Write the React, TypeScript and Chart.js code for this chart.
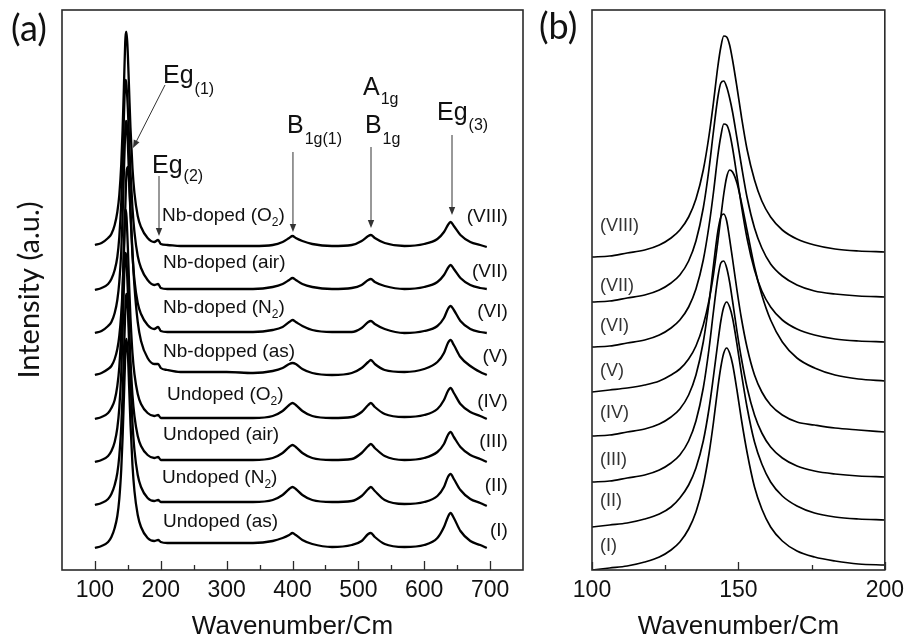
import { useEffect, useRef } from 'react';
import { Chart, registerables } from 'chart.js';

Chart.register(...registerables);

// ---------- Panel (a) data ----------
const wavenumberA = [100, 110, 120, 125, 130, 134, 137, 140, 142, 144, 146, 147, 148, 150, 152, 154, 157, 160, 165, 170, 180, 190, 196, 200, 210, 230, 260, 300, 340, 370, 385, 395, 400, 405, 415, 430, 460, 490, 505, 515, 519, 525, 540, 570, 600, 620, 630, 636, 640, 645, 655, 670, 685, 695];

const intensityA_I = [0, 2, 6, 11, 20, 32, 49, 79, 110, 150, 191, 205, 209, 194, 160, 124, 83, 57, 33, 21, 10, 7, 8, 6, 5, 5, 5, 5, 5, 7, 10, 13, 15, 13, 8, 4, 1, 3, 7, 14, 15, 11, 4, 1, 3, 10, 21, 31, 35, 30, 17, 7, 3, 0];
const intensityA_II = [0, 2, 6, 11, 20, 32, 49, 79, 110, 151, 192, 207, 211, 195, 160, 124, 82, 55, 30, 18, 7, 4, 5, 3, 3, 3, 3, 3, 3, 5, 10, 16, 18, 16, 10, 5, 3, 4, 9, 16, 18, 14, 5, 1, 3, 9, 18, 28, 31, 26, 15, 6, 2, -1];
const intensityA_III = [0, 2, 6, 11, 20, 34, 54, 90, 129, 176, 209, 208, 200, 170, 133, 102, 67, 46, 26, 16, 7, 4, 5, 2, 2, 2, 2, 2, 2, 4, 9, 15, 17, 15, 9, 4, 2, 3, 9, 16, 18, 14, 6, 2, 4, 10, 18, 27, 30, 25, 15, 7, 3, 0];
const intensityA_IV = [0, 2, 6, 11, 19, 33, 52, 88, 126, 173, 208, 209, 202, 171, 133, 101, 66, 45, 25, 15, 6, 3, 4, 1, 1, 1, 1, 1, 1, 3, 8, 14, 16, 14, 8, 3, 1, 2, 7, 14, 16, 12, 5, 2, 4, 10, 19, 28, 31, 26, 15, 7, 3, 0];
const intensityA_V = [0, 2, 6, 9, 16, 26, 39, 62, 86, 121, 165, 187, 203, 208, 192, 165, 123, 89, 53, 34, 17, 11, 11, 7, 5, 3, 3, 3, 2, 4, 7, 11, 12, 11, 6, 2, 0, 2, 7, 13, 15, 11, 5, 3, 6, 13, 22, 32, 35, 30, 18, 9, 3, 0];
const intensityA_VI = [0, 2, 7, 11, 20, 33, 51, 82, 117, 161, 202, 212, 211, 189, 153, 118, 78, 53, 30, 19, 8, 4, 6, 2, 1, 1, 1, 1, 1, 3, 6, 11, 13, 11, 7, 3, 1, 1, 5, 11, 12, 9, 4, 0, 2, 7, 15, 24, 27, 23, 12, 4, 1, 0];
const intensityA_VII = [0, 2, 6, 11, 20, 33, 53, 88, 126, 173, 208, 210, 204, 181, 149, 118, 82, 58, 34, 22, 10, 5, 6, 2, 1, 1, 1, 1, 1, 3, 6, 10, 12, 10, 6, 3, 1, 2, 5, 10, 11, 8, 4, 1, 3, 8, 15, 22, 25, 21, 12, 5, 2, 1];
const intensityA_VIII = [0, 2, 7, 11, 20, 33, 50, 81, 115, 158, 203, 213, 213, 190, 153, 117, 77, 52, 29, 18, 7, 3, 5, 1, 0, -1, -1, -1, -1, 0, 3, 7, 9, 7, 4, 1, -1, 0, 4, 9, 10, 7, 2, -1, 1, 6, 13, 20, 23, 19, 10, 3, 0, -2];

// vertical stacking offsets used for the stacked spectra (I .. VIII)
const offsetA = [22, 65, 108, 151, 195, 237, 280, 325];

const sampleNames = ['Undoped (as)', 'Undoped (N_2)', 'Undoped (air)', 'Undoped (O_2)', 'Nb-dopped (as)', 'Nb-doped (N_2)', 'Nb-doped (air)', 'Nb-doped (O_2)'];
const romanLabels = ['(I)', '(II)', '(III)', '(IV)', '(V)', '(VI)', '(VII)', '(VIII)'];

const tickLabelsA = [100, 200, 300, 400, 500, 600, 700];
const minorTicksA = [150, 250, 350, 450, 550, 650];

// ---------- Panel (b) data ----------
const wavenumberB = [100, 106, 112, 118, 123, 127, 130, 133, 135.5, 138, 140, 141.5, 143, 144, 145, 146, 147, 148, 149.5, 151, 153, 155.5, 158, 161, 165, 170, 176, 183, 191, 200];

const intensityB_I = [0, 2, 4, 8, 13, 20, 28, 41, 58, 85, 117, 148, 183, 203, 217, 222, 217, 206, 180, 151, 117, 83, 61, 43, 29, 19, 13, 9, 6, 5];
const intensityB_II = [43, 45, 47, 51, 56, 63, 72, 85, 102, 129, 162, 194, 228, 249, 263, 268, 263, 252, 226, 197, 162, 128, 106, 88, 74, 64, 57, 53, 51, 50];
const intensityB_III = [88, 89, 92, 95, 100, 107, 115, 129, 149, 182, 222, 259, 293, 307, 309, 302, 288, 269, 239, 212, 182, 155, 137, 123, 112, 104, 99, 96, 94, 93];
const intensityB_IV = [134, 135, 138, 141, 146, 153, 161, 175, 195, 228, 268, 305, 339, 353, 356, 349, 331, 311, 280, 252, 222, 195, 178, 165, 155, 148, 145, 142, 140, 138];
const intensityB_V = [178, 180, 182, 185, 189, 195, 201, 211, 224, 245, 270, 296, 329, 353, 376, 393, 400, 398, 387, 368, 339, 303, 275, 250, 228, 212, 202, 195, 191, 189];
const intensityB_VI = [223, 224, 227, 230, 235, 242, 250, 263, 281, 310, 345, 378, 415, 434, 446, 445, 437, 422, 394, 365, 331, 300, 279, 263, 250, 241, 235, 231, 229, 228];
const intensityB_VII = [268, 269, 272, 275, 280, 287, 295, 309, 329, 362, 402, 439, 473, 487, 489, 483, 472, 458, 432, 405, 372, 342, 322, 306, 294, 285, 279, 276, 274, 273];
const intensityB_VIII = [313, 314, 317, 320, 325, 332, 340, 353, 371, 400, 435, 468, 504, 523, 534, 533, 525, 510, 483, 454, 420, 390, 369, 353, 340, 331, 325, 321, 319, 318];

const tickLabelsB = [100, 150, 200];
const minorTicksB = [125, 175];

// ---------- annotations (positions in data coordinates of panel a) ----------
const peakLabels = [
  { main: 'Eg', sub: '(1)', x: 203.4, y: 487, subDy: 11 },
  { main: 'Eg', sub: '(2)', x: 186.7, y: 397, subDy: 8 },
  { main: 'B', sub: '1g(1)', x: 391.6, y: 437, subDy: 11 },
  { main: 'A', sub: '1g', x: 507, y: 475, subDy: 9 },
  { main: 'B', sub: '1g', x: 510, y: 437, subDy: 11 },
  { main: 'Eg', sub: '(3)', x: 619.4, y: 450, subDy: 10 },
];
const arrowsA = [
  { x1: 206.4, y1: 485, x2: 157.8, y2: 422 },
  { x1: 197.3, y1: 394, x2: 197.3, y2: 334 },
  { x1: 400.7, y1: 418, x2: 400.7, y2: 338 },
  { x1: 519.2, y1: 423, x2: 519.2, y2: 342 },
  { x1: 642.2, y1: 435, x2: 642.2, y2: 355 },
];
const nameLabelPos = [
  { x: 203.4, y: 43 }, { x: 201.8, y: 87 }, { x: 203.4, y: 130 }, { x: 209.5, y: 170 },
  { x: 203.4, y: 213 }, { x: 203.4, y: 257 }, { x: 203.4, y: 302 }, { x: 201.8, y: 349 },
];
const romanPosA = [34, 79, 123, 163, 208, 253, 293, 348];
const romanPosB = [19, 64, 105, 152, 194, 239, 279, 339];

const ARIAL = '"Liberation Sans", Arial, sans-serif';
const CALIBRI = 'Lato, "Open Sans", sans-serif';

function drawRich(ctx: CanvasRenderingContext2D, text: string, x: number, y: number, size: number, subSize: number, subDy: number) {
  const segs: { t: string; sub: boolean }[] = [];
  let buf = '';
  for (let i = 0; i < text.length; i++) {
    if (text[i] === '_') {
      if (buf) segs.push({ t: buf, sub: false });
      buf = '';
      segs.push({ t: text[i + 1], sub: true });
      i++;
    } else buf += text[i];
  }
  if (buf) segs.push({ t: buf, sub: false });
  let cx = x;
  ctx.textAlign = 'left';
  ctx.textBaseline = 'alphabetic';
  segs.forEach((s) => {
    ctx.font = `${s.sub ? subSize : size}px ${ARIAL}`;
    ctx.fillText(s.t, cx, s.sub ? y + subDy : y);
    cx += ctx.measureText(s.t).width;
  });
}

function framePlugin(major: number[], minor: number[], majorLen: number, minorLen: number) {
  return {
    id: 'frameTicks',
    afterDatasetsDraw(chart: any) {
      const { ctx, chartArea, scales } = chart;
      const { left, top, right, bottom } = chartArea;
      const xs = scales.x;
      ctx.save();
      ctx.strokeStyle = '#2a2a2a';
      ctx.lineWidth = 1.6;
      ctx.strokeRect(left, top, right - left, bottom - top);
      ctx.lineWidth = 1.3;
      ctx.beginPath();
      major.forEach((v) => {
        const px = Math.round(xs.getPixelForValue(v)) + 0.5;
        ctx.moveTo(px, bottom);
        ctx.lineTo(px, bottom - majorLen);
      });
      minor.forEach((v) => {
        const px = Math.round(xs.getPixelForValue(v)) + 0.5;
        ctx.moveTo(px, bottom);
        ctx.lineTo(px, bottom - minorLen);
      });
      ctx.stroke();
      ctx.restore();
    },
  };
}

const annotationsA = {
  id: 'annotA',
  afterDraw(chart: any) {
    const { ctx, scales } = chart;
    const xs = scales.x;
    const ys = scales.y;
    ctx.save();
    ctx.fillStyle = '#111';
    ctx.font = `36px ${CALIBRI}`;
    ctx.textAlign = 'left';
    ctx.textBaseline = 'alphabetic';
    ctx.fillText('(a)', 11, 41);
    peakLabels.forEach((p) => {
      const px = xs.getPixelForValue(p.x);
      const py = ys.getPixelForValue(p.y);
      ctx.font = `25px ${ARIAL}`;
      ctx.fillText(p.main, px, py);
      const w = ctx.measureText(p.main).width;
      ctx.font = `16px ${ARIAL}`;
      ctx.fillText(p.sub, px + w + 1, py + p.subDy);
    });
    ctx.strokeStyle = '#333';
    ctx.fillStyle = '#333';
    ctx.lineWidth = 1;
    arrowsA.forEach((a) => {
      const x1 = xs.getPixelForValue(a.x1);
      const y1 = ys.getPixelForValue(a.y1);
      const x2 = xs.getPixelForValue(a.x2);
      const y2 = ys.getPixelForValue(a.y2);
      const ang = Math.atan2(y2 - y1, x2 - x1);
      const L = 8;
      const W = 3.2;
      ctx.beginPath();
      ctx.moveTo(x1, y1);
      ctx.lineTo(x2 - Math.cos(ang) * L * 0.8, y2 - Math.sin(ang) * L * 0.8);
      ctx.stroke();
      ctx.beginPath();
      ctx.moveTo(x2, y2);
      ctx.lineTo(x2 - Math.cos(ang) * L + Math.sin(ang) * W, y2 - Math.sin(ang) * L - Math.cos(ang) * W);
      ctx.lineTo(x2 - Math.cos(ang) * L - Math.sin(ang) * W, y2 - Math.sin(ang) * L + Math.cos(ang) * W);
      ctx.closePath();
      ctx.fill();
    });
    ctx.fillStyle = '#111';
    sampleNames.forEach((n, i) => {
      const p = nameLabelPos[i];
      drawRich(ctx, n, xs.getPixelForValue(p.x), ys.getPixelForValue(p.y), 19, 12, 5);
    });
    romanLabels.forEach((r, i) => {
      ctx.font = `19px ${ARIAL}`;
      ctx.textAlign = 'right';
      ctx.fillText(r, xs.getPixelForValue(727), ys.getPixelForValue(romanPosA[i]));
    });
    ctx.restore();
  },
};

const annotationsB = {
  id: 'annotB',
  afterDraw(chart: any) {
    const { ctx, scales } = chart;
    const xs = scales.x;
    const ys = scales.y;
    ctx.save();
    ctx.fillStyle = '#111';
    ctx.font = `36px ${CALIBRI}`;
    ctx.textAlign = 'left';
    ctx.textBaseline = 'alphabetic';
    ctx.fillText('(b)', 9, 39);
    ctx.fillStyle = '#333';
    ctx.font = `18px ${ARIAL}`;
    romanLabels.forEach((r, i) => {
      ctx.fillText(r, xs.getPixelForValue(102.7), ys.getPixelForValue(romanPosB[i]));
    });
    ctx.restore();
  },
};

function xScale(min: number, max: number, ticks: number[]) {
  return {
    type: 'linear',
    min,
    max,
    afterBuildTicks: (s: any) => {
      s.ticks = ticks.map((v) => ({ value: v }));
    },
    afterFit: (s: any) => {
      s.height = 68;
    },
    grid: { display: false, drawTicks: false },
    border: { display: false },
    ticks: {
      autoSkip: false,
      maxRotation: 0,
      padding: 7,
      color: '#111',
      font: { family: ARIAL, size: 23 },
      callback: (v: any) => String(v),
    },
    title: {
      display: true,
      text: 'Wavenumber/Cm',
      color: '#111',
      font: { family: ARIAL, size: 26, lineHeight: 1.2 },
      padding: { top: 0, bottom: -4 },
    },
  };
}

export default function App() {
  const refA = useRef<HTMLCanvasElement>(null);
  const refB = useRef<HTMLCanvasElement>(null);

  useEffect(() => {
    const seriesA = [intensityA_I, intensityA_II, intensityA_III, intensityA_IV, intensityA_V, intensityA_VI, intensityA_VII, intensityA_VIII];
    const seriesB = [intensityB_I, intensityB_II, intensityB_III, intensityB_IV, intensityB_V, intensityB_VI, intensityB_VII, intensityB_VIII];

    const chartA = new Chart(refA.current as HTMLCanvasElement, {
      type: 'line',
      data: {
        datasets: seriesA.map((vals, k) => ({
          label: romanLabels[k],
          data: vals.map((v, i) => ({ x: wavenumberA[i], y: v + offsetA[k] })),
          borderColor: '#000',
          borderWidth: 2.3,
          pointRadius: 0,
          fill: false,
          cubicInterpolationMode: 'monotone',
        })),
      },
      options: {
        animation: false,
        responsive: false,
        devicePixelRatio: 1,
        layout: { padding: { left: 0, right: 7, top: 10, bottom: 0 } },
        plugins: { legend: { display: false }, tooltip: { enabled: false } },
        scales: {
          x: xScale(50, 750, tickLabelsA) as any,
          y: {
            type: 'linear',
            min: 0,
            max: 560,
            afterFit: (s: any) => {
              s.width = 62;
            },
            grid: { display: false, drawTicks: false },
            border: { display: false },
            ticks: { display: false },
            title: {
              display: true,
              text: 'Intensity (a.u.)',
              color: '#111',
              font: { family: CALIBRI, size: 29, lineHeight: 1.2 },
              padding: { top: 12, bottom: 0 },
            },
          },
        },
      },
      plugins: [framePlugin(tickLabelsA, minorTicksA, 9, 5), annotationsA],
    } as any);

    const chartB = new Chart(refB.current as HTMLCanvasElement, {
      type: 'line',
      data: {
        datasets: seriesB.map((vals, k) => ({
          label: romanLabels[k],
          data: vals.map((v, i) => ({ x: wavenumberB[i], y: v })),
          borderColor: '#000',
          borderWidth: 1.7,
          pointRadius: 0,
          fill: false,
          cubicInterpolationMode: 'monotone',
        })),
      },
      options: {
        animation: false,
        responsive: false,
        devicePixelRatio: 1,
        layout: { padding: { left: 62, right: 24, top: 10, bottom: 0 } },
        plugins: { legend: { display: false }, tooltip: { enabled: false } },
        scales: {
          x: xScale(100, 200, tickLabelsB) as any,
          y: { type: 'linear', min: 0, max: 560, display: false },
        },
      },
      plugins: [framePlugin(tickLabelsB, minorTicksB, 8, 5), annotationsB],
    } as any);

    return () => {
      chartA.destroy();
      chartB.destroy();
    };
  }, []);

  return (
    <div style={{ position: 'absolute', left: 0, top: 0, width: 911, height: 638, background: '#fff' }}>
      <canvas ref={refA} width={530} height={638} style={{ position: 'absolute', left: 0, top: 0, width: 530, height: 638 }} />
      <canvas ref={refB} width={381} height={638} style={{ position: 'absolute', left: 530, top: 0, width: 381, height: 638 }} />
    </div>
  );
}
